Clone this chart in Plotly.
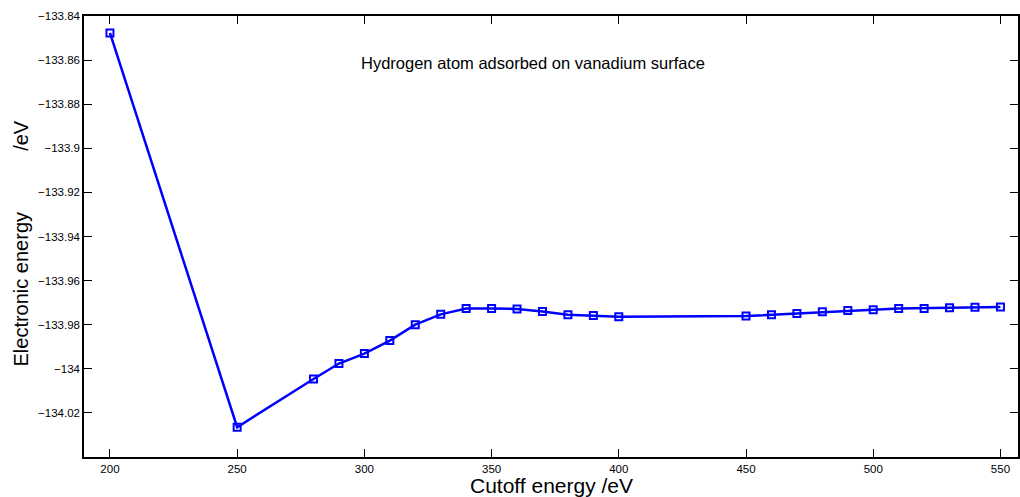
import plotly.graph_objects as go

cutoff = [200, 250, 280, 290, 300, 310, 320, 330, 340, 350, 360, 370, 380, 390, 400,
          450, 460, 470, 480, 490, 500, 510, 520, 530, 540, 550]
energy = [-133.8477, -134.0265, -134.0046, -133.9976, -133.9931, -133.9872, -133.9800,
          -133.9753, -133.9727, -133.9726, -133.9729, -133.9740, -133.9755, -133.9758,
          -133.9764, -133.9761, -133.9755, -133.9749, -133.9741, -133.9736, -133.9732,
          -133.9727, -133.9726, -133.9723, -133.9721, -133.9720]

x_ticks = [200, 250, 300, 350, 400, 450, 500, 550]
y_ticks = [-133.84, -133.86, -133.88, -133.9, -133.92, -133.94, -133.96, -133.98, -134, -134.02]
y_tick_text = ["\u2212133.84", "\u2212133.86", "\u2212133.88", "\u2212133.9", "\u2212133.92",
               "\u2212133.94", "\u2212133.96", "\u2212133.98", "\u2212134", "\u2212134.02"]

title_text = "Hydrogen atom adsorbed on vanadium surface"
x_label = "Cutoff energy /eV"
y_label = "Electronic energy" + "\u00a0" * 11 + "/eV"

fig = go.Figure()
fig.add_trace(go.Scatter(
    x=cutoff, y=energy, mode="lines+markers",
    line=dict(color="#0000FF", width=2.5),
    marker=dict(symbol="square-open", size=7, color="#0000FF", line=dict(width=2, color="#0000FF")),
    showlegend=False,
))

font_family = "Liberation Sans, Arial, sans-serif"
axis_common = dict(
    showline=True, linecolor="black", linewidth=1.5, mirror="ticks",
    ticks="inside", ticklen=8, tickwidth=1, tickcolor="black",
    showgrid=False, zeroline=False,
    tickfont=dict(family=font_family, size=11.5, color="black"),
)
fig.update_layout(
    width=1020, height=497,
    margin=dict(l=84, r=0, t=16, b=40),
    paper_bgcolor="white", plot_bgcolor="white",
    xaxis=dict(range=[189.8, 556.9], tickvals=x_ticks, **axis_common),
    yaxis=dict(range=[-134.04, -133.84], tickvals=y_ticks, ticktext=y_tick_text, **axis_common),
    annotations=[
        dict(text=title_text, x=366.3, y=-133.8613, xref="x", yref="y", showarrow=False,
             xanchor="center", yanchor="middle",
             font=dict(family=font_family, size=16.5, color="black")),
        dict(text=x_label, xref="paper", yref="paper", x=0.5, y=0, yshift=-28,
             xanchor="center", yanchor="middle",
             showarrow=False, font=dict(family=font_family, size=21, color="black")),
        dict(text=y_label, xref="paper", yref="paper", x=0, xshift=-64, y=0.5, yshift=-7,
             xanchor="center", yanchor="middle",
             textangle=-90, showarrow=False, font=dict(family=font_family, size=20, color="black")),
    ],
)
fig.write_html("out.html")
